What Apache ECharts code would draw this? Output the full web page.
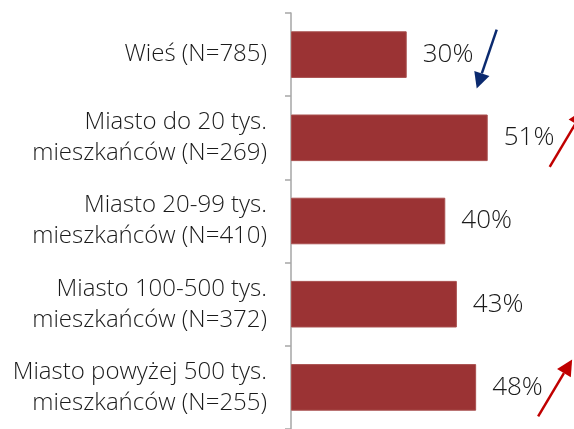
<!DOCTYPE html>
<html>
<head>
    <meta charset="utf-8">
    <title>Miejsce zamieszkania</title>
    <script src="https://cdn.jsdelivr.net/npm/echarts@6.0.0/dist/echarts.min.js"></script>
    <style>
        body { margin: 0; background: #fff; }
    </style>
</head>
<body>
    <div id="chart" style="width: 574px; height: 429px;"></div>
    <script>
        // categories, top to bottom
        var categories = [
            'Wieś (N=785)',
            'Miasto do 20 tys.\nmieszkańców (N=269)',
            'Miasto 20-99 tys.\nmieszkańców (N=410)',
            'Miasto 100-500 tys.\nmieszkańców (N=372)',
            'Miasto powyżej 500 tys.\nmieszkańców (N=255)'
        ];
        var values = [30, 51, 40, 43, 48];
        // trend arrows next to labels
        var trends = ['down', 'up', null, null, 'up'];

        var chart = echarts.init(document.querySelector('#chart'));

        var option = {
            animation: false,
            grid: {
                left: 291,
                top: 13,
                width: 270,
                height: 419
            },
            xAxis: {
                type: 'value',
                min: 0,
                max: 70,
                show: false
            },
            yAxis: {
                type: 'category',
                inverse: true,
                data: categories,
                axisLine: { lineStyle: { color: '#A6A6A6', width: 1.5 } },
                axisTick: { show: true, length: 6, lineStyle: { color: '#A6A6A6', width: 1.5 } },
                axisLabel: {
                    margin: 24,
                    color: '#1A1A1A',
                    fontFamily: 'Open Sans',
                    fontWeight: 300,
                    fontSize: 24,
                    lineHeight: 31,
                    align: 'right'
                }
            },
            series: [{
                type: 'bar',
                data: values,
                barCategoryGap: '44%',
                itemStyle: { color: '#9B3334', borderColor: '#A9504F', borderWidth: 1 },
                label: {
                    show: true,
                    position: 'right',
                    distance: 16,
                    formatter: '{c}%',
                    color: '#1A1A1A',
                    fontFamily: 'Open Sans',
                    fontWeight: 300,
                    fontSize: 26
                }
            }]
        };
        chart.setOption(option);

        // draw trend arrows relative to each bar's category
        function arrow(x1, y1, x2, y2, color) {
            var dx = x2 - x1, dy = y2 - y1;
            var len = Math.sqrt(dx * dx + dy * dy);
            var ux = dx / len, uy = dy / len;
            var hl = 16, hw = 8;
            var bx = x2 - ux * hl, by = y2 - uy * hl;
            return [
                {
                    type: 'line',
                    shape: { x1: x1, y1: y1, x2: bx, y2: by },
                    style: { stroke: color, lineWidth: 2.5 }
                },
                {
                    type: 'polygon',
                    shape: { points: [[x2, y2], [bx - uy * hw, by + ux * hw], [bx + uy * hw, by - ux * hw]] },
                    style: { fill: color }
                }
            ];
        }

        var elements = [];
        trends.forEach(function (t, i) {
            if (!t) return;
            var c = chart.convertToPixel({ gridIndex: 0 }, [values[i], i]);
            if (t === 'down') {
                elements = elements.concat(arrow(c[0] + 90, c[1] - 25, c[0] + 70, c[1] + 34, '#0B2A6F'));
            } else {
                elements = elements.concat(arrow(c[0] + 62, c[1] + 29, c[0] + 96, c[1] - 28, '#C00000'));
            }
        });
        chart.setOption({ graphic: elements });
    </script>
</body>
</html>
